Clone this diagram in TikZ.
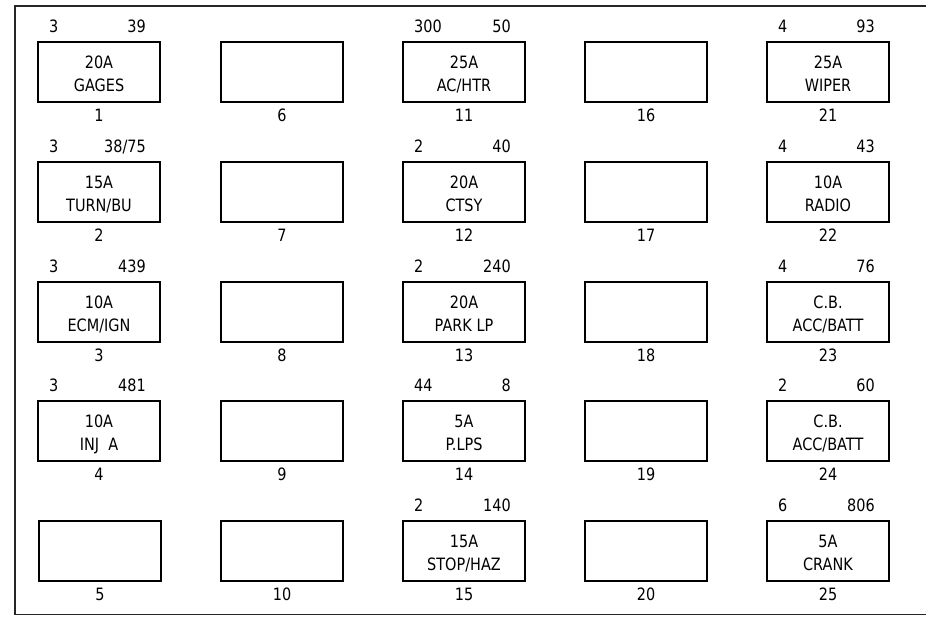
\documentclass[tikz,border=0pt]{standalone}
\usepackage{fontspec}
\newfontfamily\cadfont{DejaVu Sans}[FakeStretch=0.85]
\tikzset{
  fusebox/.style={draw=black, line width=1.2pt, rectangle, minimum width=122pt, minimum height=60pt, inner sep=0pt},
  lbl/.style={font=\cadfont\fontsize{17}{20}\selectfont, inner sep=0pt, text height=12.4pt, text depth=0pt},
  frameline/.style={line width=1.6pt, draw=black!85}
}
% #1 id, #2 left x, #3 top y, #4 left label, #5 right label, #6 line1, #7 line2
\newcommand\myfuse[7]{%
  \node[fusebox] (f#1) at (#2+61,#3+30) {};
  \node[lbl, anchor=west] (f#1a) at (#2+11,#3-16) {#4};
  \node[lbl, anchor=east] (f#1b) at (#2+108,#3-16) {#5};
  \node[lbl] (f#1c) at (#2+61,#3+20) {#6};
  \node[lbl] (f#1d) at (#2+61,#3+43) {#7};
  \node[lbl] (f#1n) at (#2+61,#3+73) {#1};
}
\begin{document}
\begin{tikzpicture}[x=1pt,y=-1pt]
\useasboundingbox (0,0) rectangle (926,616);
\fill[white] (0,0) rectangle (926,616);
\coordinate (tl) at (15,6);
\coordinate (tr) at (926,6);
\coordinate (bl) at (15,614.5);
\coordinate (br) at (926,614.5);
\draw[frameline] (tr) -- (tl) -- (bl) -- (br);
% column 1
\myfuse{1}{38}{42}{3}{39}{20A}{GAGES}
\myfuse{2}{38}{162}{3}{38/75}{15A}{TURN/BU}
\myfuse{3}{38}{282}{3}{439}{10A}{ECM/IGN}
\myfuse{4}{38}{401}{3}{481}{10A}{INJ\ \ A}
\myfuse{5}{39}{521}{}{}{}{}
% column 2
\myfuse{6}{221}{42}{}{}{}{}
\myfuse{7}{221}{162}{}{}{}{}
\myfuse{8}{221}{282}{}{}{}{}
\myfuse{9}{221}{401}{}{}{}{}
\myfuse{10}{221}{521}{}{}{}{}
% column 3
\myfuse{11}{403}{42}{300}{50}{25A}{AC/HTR}
\myfuse{12}{403}{162}{2}{40}{20A}{CTSY}
\myfuse{13}{403}{282}{2}{240}{20A}{PARK LP}
\myfuse{14}{403}{401}{44}{8}{5A}{P.LPS}
\myfuse{15}{403}{521}{2}{140}{15A}{STOP/HAZ}
% column 4
\myfuse{16}{585}{42}{}{}{}{}
\myfuse{17}{585}{162}{}{}{}{}
\myfuse{18}{585}{282}{}{}{}{}
\myfuse{19}{585}{401}{}{}{}{}
\myfuse{20}{585}{521}{}{}{}{}
% column 5
\myfuse{21}{767}{42}{4}{93}{25A}{WIPER}
\myfuse{22}{767}{162}{4}{43}{10A}{RADIO}
\myfuse{23}{767}{282}{4}{76}{C.B.}{ACC/BATT}
\myfuse{24}{767}{401}{2}{60}{C.B.}{ACC/BATT}
\myfuse{25}{767}{521}{6}{806}{5A}{CRANK}
\end{tikzpicture}
\end{document}
